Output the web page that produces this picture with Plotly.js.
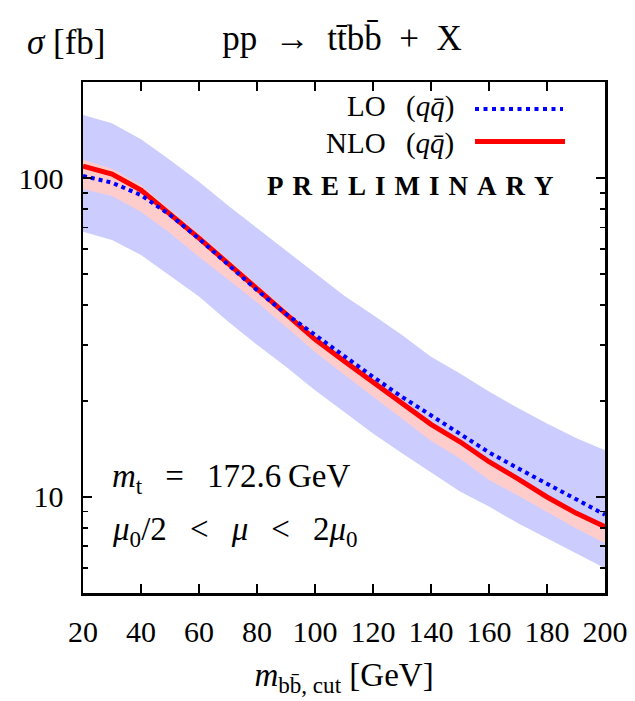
<!DOCTYPE html>
<html>
<head>
<meta charset="utf-8">
<script src="https://cdn.plot.ly/plotly-3.0.1.min.js"></script>
<style>html,body{margin:0;padding:0;background:#fff;}#chart{width:635px;height:701px;}</style>
</head>
<body>
<div id="chart"></div>
<script>
// m_bb,cut [GeV]
const mcut = [20,30,40,50,60,70,80,90,100,110,120,130,140,150,160,170,180,190,200];
// LO (q qbar) central and scale band [fb]
const loCentral = [101.5,96.7,88.4,76.6,64.5,53.5,44.5,37.5,32.2,27.5,23.8,20.6,18.0,15.8,13.8,12.3,11.0,9.8,8.8];
const loUpper   = [157.6,148.4,132.2,113.9,97.4,82.0,69.7,59.3,50.4,42.8,37.2,32.2,27.5,24.4,21.4,19.0,17.0,15.3,14.0];
const loLower   = [67.9,63.9,57.4,49.3,42.5,35.5,30.0,25.6,21.6,18.5,15.8,13.7,11.9,10.4,9.33,8.27,7.42,6.66,5.98];
// NLO (q qbar) central and scale band [fb]
const nloCentral = [109.0,102.9,91.7,77.5,64.8,54.0,45.0,37.8,31.2,26.7,23.0,19.7,16.9,14.9,12.9,11.4,10.0,8.9,8.07];
const nloUpper   = [114,107,95,80,67,55.8,46.3,38.8,32.0,27.3,23.5,20.1,17.2,15.2,13.1,11.6,10.2,9.05,8.2];
const nloLower   = [92.4,87.8,78.4,67.2,56.6,48.0,40.8,34.2,28.5,24.2,20.6,17.6,15.0,13.2,11.3,10.1,9.0,7.98,7.16];
// ticks
const xTicks = [20,40,60,80,100,120,140,160,180,200];
const yMajor = [10,100];
const yMajorText = ['10','100'];
const yMinor = [6,7,8,9,20,30,40,50,60,70,80,90,200];

const FONT = 'Liberation Serif, Times New Roman, serif';
const BLUEBAND = '#ccccff', PINKBAND = '#ffcccc';
const SP = '\u2002';
const SPW = '\u2002\u2009';

const traces = [
  {x: mcut, y: loLower, mode: 'lines', line: {width: 0, color: BLUEBAND}, showlegend: false, hoverinfo: 'skip'},
  {x: mcut, y: loUpper, mode: 'lines', line: {width: 0, color: BLUEBAND}, fill: 'tonexty', fillcolor: BLUEBAND, showlegend: false, hoverinfo: 'skip'},
  {x: mcut, y: nloLower, mode: 'lines', line: {width: 0, color: PINKBAND}, showlegend: false, hoverinfo: 'skip'},
  {x: mcut, y: nloUpper, mode: 'lines', line: {width: 0, color: PINKBAND}, fill: 'tonexty', fillcolor: PINKBAND, showlegend: false, hoverinfo: 'skip'},
  {x: mcut, y: nloCentral, mode: 'lines', name: 'NLO', line: {color: '#ff0000', width: 5}, showlegend: false},
  {x: mcut, y: loCentral, mode: 'lines', name: 'LO', line: {color: '#0000ff', width: 4, dash: '4px,4px'}, showlegend: false}
];

function px2x(p){ return (p - 83) / 522; }
function px2y(p){ return (593 - p) / 511; }

const layout = {
  width: 635, height: 701,
  margin: {l: 83, r: 30, t: 82, b: 108},
  paper_bgcolor: '#fff', plot_bgcolor: '#fff',
  font: {family: FONT, color: '#000', size: 30},
  showlegend: false,
  title: {
    text: 'pp' + SP + '→' + SP + 'tt\u0304bb\u0304' + SP + '+' + SP + 'X',
    font: {family: FONT, size: 35, color: '#000'},
    xref: 'container', yref: 'container',
    x: 342/635, y: 1 - 38/701, xanchor: 'center', yanchor: 'middle'
  },
  xaxis: {
    range: [20, 200],
    tickvals: xTicks,
    ticks: 'inside', ticklen: 9, tickwidth: 1.8, tickcolor: '#000',
    showline: true, linewidth: 2.5, linecolor: '#000', mirror: 'ticks',
    showgrid: false, zeroline: false,
    tickfont: {family: FONT, size: 30, color: '#000'},
    ticklabelstandoff: 10,
    title: {text: '<i>m</i><sub>bb\u0304, cut</sub> [GeV]', font: {family: FONT, size: 33, color: '#000'}, standoff: 17}
  },
  yaxis: {
    type: 'log',
    range: [Math.log10(5), Math.log10(200)],
    tickvals: yMajor, ticktext: yMajorText,
    ticks: 'inside', ticklen: 9, tickwidth: 1.8, tickcolor: '#000',
    showline: true, linewidth: 2.5, linecolor: '#000', mirror: 'ticks',
    showgrid: false, zeroline: false,
    tickfont: {family: FONT, size: 30, color: '#000'},
    ticklabelstandoff: 11,
    minor: {tickvals: yMinor, ticks: 'inside', ticklen: 5, tickwidth: 1.8, tickcolor: '#000', showgrid: false}
  },
  shapes: [
    {type: 'line', xref: 'paper', yref: 'paper', x0: px2x(475), x1: px2x(563), y0: px2y(109), y1: px2y(109),
     line: {color: '#0000ff', width: 4, dash: '4px,4.5px'}},
    {type: 'line', xref: 'paper', yref: 'paper', x0: px2x(475), x1: px2x(565), y0: px2y(141.5), y1: px2y(141.5),
     line: {color: '#ff0000', width: 5}}
  ],
  annotations: [
    {xref: 'paper', yref: 'paper', x: px2x(25), y: px2y(42), xanchor: 'left', yanchor: 'middle', showarrow: false,
     text: '<i>σ</i> [fb]', font: {family: FONT, size: 35, color: '#000'}},
    {xref: 'paper', yref: 'paper', x: px2x(456), y: px2y(106), xanchor: 'right', yanchor: 'middle', showarrow: false,
     text: 'LO' + SPW + '(<i>qq\u0304</i>)', font: {family: FONT, size: 29, color: '#000'}},
    {xref: 'paper', yref: 'paper', x: px2x(456), y: px2y(143), xanchor: 'right', yanchor: 'middle', showarrow: false,
     text: 'NLO' + SPW + '(<i>qq\u0304</i>)', font: {family: FONT, size: 29, color: '#000'}},
    {xref: 'paper', yref: 'paper', x: px2x(410), y: px2y(186), xanchor: 'center', yanchor: 'middle', showarrow: false,
     text: '<b>P\u2004R\u2004E\u2004L\u2004I\u2004M\u2004I\u2004N\u2004A\u2004R\u2004Y</b>', font: {family: FONT, size: 27, color: '#000'}},
    {xref: 'paper', yref: 'paper', x: px2x(110), y: px2y(478), xanchor: 'left', yanchor: 'middle', showarrow: false,
     text: '<i>m</i><sub>t</sub>' + SPW + '=' + SPW + '172.6\u2009GeV', font: {family: FONT, size: 33, color: '#000'}},
    {xref: 'paper', yref: 'paper', x: px2x(110), y: px2y(531), xanchor: 'left', yanchor: 'middle', showarrow: false,
     text: '<i>μ</i><sub>0</sub>/2' + SPW + '<' + SPW + '<i>μ</i>' + SPW + '<' + SPW + '2<i>μ</i><sub>0</sub>', font: {family: FONT, size: 33, color: '#000'}}
  ]
};

Plotly.newPlot('chart', traces, layout, {displayModeBar: false, staticPlot: true});
</script>
</body>
</html>
